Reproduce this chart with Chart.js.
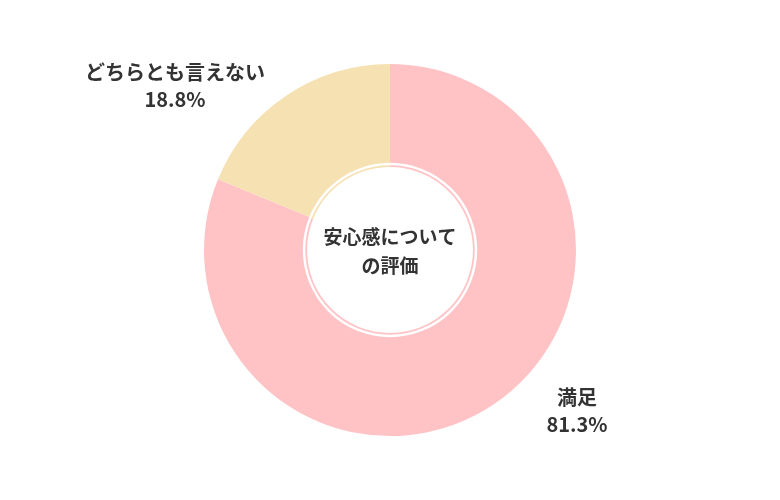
<!DOCTYPE html>
<html><head><meta charset="utf-8">
<script src="https://cdn.jsdelivr.net/npm/chart.js@4"></script>
<style>body{margin:0;background:#fff}#w{width:780px;height:500px}</style></head>
<body><div id="w"><canvas id="c" width="780" height="500"></canvas></div>
<script>
const categories=["満足","どちらとも言えない"];
const values=[81.3,18.8];
const colors=["#FFC3C6","#F5E1B2"];
const centerLines=["安心感について","の評価"];
const labelPos=[[577,397],[175,72]];
const font='"Noto Sans CJK JP","Noto Sans",sans-serif';
const plugin={id:'deco',afterDraw(ch){
 const m=ch.getDatasetMeta(0).data[0];const ctx=ch.ctx;
 ctx.save();
 ctx.beginPath();ctx.arc(m.x,m.y,m.innerRadius+3,0,Math.PI*2);ctx.strokeStyle='#fff';ctx.lineWidth=2.5;ctx.stroke();
 ctx.fillStyle='#333';ctx.textAlign='center';ctx.textBaseline='middle';
 ctx.font='bold 19px '+font;
 ctx.fillText(centerLines[0],m.x,m.y-13);ctx.fillText(centerLines[1],m.x,m.y+16);
 ctx.font='bold 20px '+font;
 categories.forEach((c,i)=>{const [x,y]=labelPos[i];ctx.fillText(c,x,y);ctx.fillText(values[i].toFixed(1)+'%',x,y+27);});
 ctx.restore();}};
new Chart(document.getElementById('c'),{type:'doughnut',
 data:{labels:categories,datasets:[{data:values,backgroundColor:colors,borderWidth:0}]},
 options:{responsive:false,animation:false,cutout:'44.6%',
  layout:{padding:{top:64,bottom:64}},
  plugins:{legend:{display:false},tooltip:{enabled:false}}},
 plugins:[plugin]});
</script></body></html>
